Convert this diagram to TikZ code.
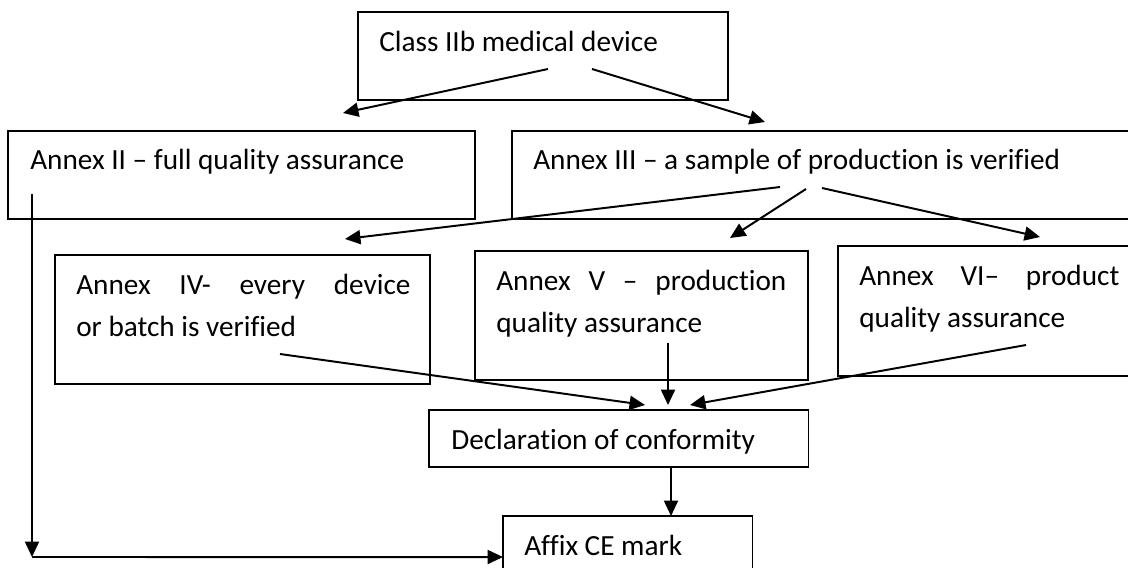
\documentclass[tikz,border=0pt]{standalone}
\usepackage{fontspec}
\setmainfont{Carlito}[Ligatures={NoCommon}]
\usetikzlibrary{arrows.meta}
\begin{document}
\begin{tikzpicture}[
      x=0.025cm, y=-0.025cm,
      box/.style={draw, line width=1pt, anchor=north west, inner sep=0pt, outer sep=0pt},
      thinbox/.style={box, line width=0.75pt},
      txt/.style={anchor=base west, inner sep=0pt, font=\fontsize{20.8}{29.9}\selectfont},
      para/.style={txt, align=justify},
      arr/.style={line width=1.4pt, -{Triangle[length=11pt, width=10pt]}}
    ]
    \useasboundingbox (0,0) rectangle (1128,567);
    \clip (0,0) rectangle (1128,567);

    % Boxes
    \node[box, line width=1.2pt, minimum width=9.25cm, minimum height=2.2cm] (cls) at (358,12) {};
    \node[box, minimum width=11.675cm, minimum height=2.2cm] (anxII) at (8,131) {};
    \node[box, minimum width=15.7cm, minimum height=2.2cm] (anxIII) at (512,131) {};
    \node[box, minimum width=9.375cm, minimum height=3.225cm] (anxIV) at (55,255) {};
    \node[box, minimum width=8.325cm, minimum height=3.225cm] (anxV) at (475,251) {};
    \node[box, minimum width=7.55cm, minimum height=3.25cm] (anxVI) at (838,246) {};
    \node[thinbox, minimum width=9.475cm, minimum height=1.425cm] (doc) at (429,410) {};
    \node[thinbox, minimum width=6.225cm, minimum height=2.05cm] (ce) at (503,516) {};

    % Texts
    \node[txt] (clsT) at (379,51) {Class IIb medical device};
    \node[txt] (anxIIT) at (30,169) {Annex II – full quality assurance};
    \node[txt] (anxIIIT) at (533,169) {Annex III – a sample of production is verified};
    \node[para, text width=8.35cm] (anxIVT) at (76,294)
      {Annex IV- every device\linebreak or batch is verified};
    \node[para, text width=7.25cm] (anxVT) at (496,290)
      {Annex V – production\linebreak quality assurance};
    \node[para, text width=6.5cm] (anxVIT) at (859,285)
      {Annex VI– product\linebreak quality assurance};
    \node[txt] (docT) at (451,449) {Declaration of conformity};
    \node[txt] (ceT) at (524,555) {Affix CE mark};

    % Arrow ends
    \coordinate (clsL) at (548,69);   \coordinate (toII) at (343,113);
    \coordinate (clsR) at (592,69);   \coordinate (toIII) at (765,122);
    \coordinate (iiiA) at (780,187);  \coordinate (toIV) at (345,239);
    \coordinate (iiiB) at (806,189);  \coordinate (toV) at (730,238);
    \coordinate (iiiC) at (822,188);  \coordinate (toVI) at (1040,237);
    \coordinate (ivOut) at (280,354); \coordinate (docL) at (645,405);
    \coordinate (vOut) at (668,343);  \coordinate (docM) at (668,405);
    \coordinate (viOut) at (1026,345);\coordinate (docR) at (690,405);
    \coordinate (docOut) at (671,467);\coordinate (ceIn) at (671,516);
    \coordinate (iiOut) at (32,194);  \coordinate (bend) at (32,557);

    % Connectors
    \draw[arr] (clsL) -- (toII);
    \draw[arr] (clsR) -- (toIII);
    \draw[arr] (iiiA) -- (toIV);
    \draw[arr] (iiiB) -- (toV);
    \draw[arr] (iiiC) -- (toVI);
    \draw[arr] (ivOut) -- (docL);
    \draw[arr] (vOut) -- (docM);
    \draw[arr] (viOut) -- (docR);
    \draw[arr] (docOut) -- (ceIn);
    \draw[arr] (iiOut) -- (bend);
    \draw[arr] (bend) -- (ce.west);
  \end{tikzpicture}
\end{document}
